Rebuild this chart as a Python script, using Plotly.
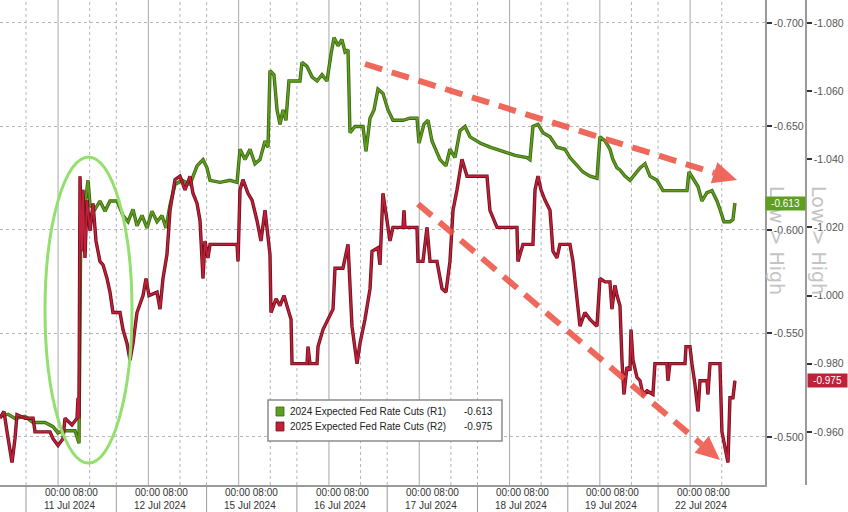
import plotly.graph_objects as go

# ---------------- data ----------------
day_labels = ["11 Jul 2024", "12 Jul 2024", "15 Jul 2024", "16 Jul 2024",
              "17 Jul 2024", "18 Jul 2024", "19 Jul 2024", "22 Jul 2024"]
hour_labels = "00:00 08:00"

series_names = ["2024 Expected Fed Rate Cuts (R1)", "2025 Expected Fed Rate Cuts (R2)"]

# x = trading-session index (fraction of session)
x_r1 = [-0.288, -0.199, -0.122, -0.011, 0.078, 0.210, 0.299, 0.354, 0.410, 0.543,
        0.587, 0.609, 0.642, 0.687, 0.709, 0.764, 0.819, 0.875, 0.930, 1.008,
        1.074, 1.130, 1.185, 1.229, 1.285, 1.340, 1.395, 1.451, 1.506, 1.550,
        1.595, 1.650, 1.728, 1.816, 1.894, 1.960, 2.004, 2.038, 2.148, 2.259,
        2.337, 2.370, 2.425, 2.481, 2.536, 2.591, 2.647, 2.680, 2.702, 2.746,
        2.780, 2.813, 2.846, 2.879, 2.912, 3.034, 3.056, 3.112, 3.167, 3.223,
        3.278, 3.333, 3.378, 3.411, 3.455, 3.499, 3.533, 3.566, 3.588, 3.643,
        3.732, 3.765, 3.810, 3.854, 3.898, 3.953, 4.009, 4.064, 4.175, 4.252,
        4.330, 4.352, 4.407, 4.452, 4.496, 4.585, 4.651, 4.695, 4.751, 4.806,
        4.862, 4.917, 5.028, 5.138, 5.282, 5.415, 5.548, 5.581, 5.614, 5.670,
        5.725, 5.803, 5.880, 5.969, 6.024, 6.102, 6.168, 6.246, 6.323, 6.356,
        6.412, 6.467, 6.500, 6.545, 6.578, 6.633, 6.689, 6.800, 6.855, 6.910,
        6.988, 7.054, 7.187, 7.320, 7.342, 7.397, 7.442, 7.486, 7.541, 7.597,
        7.652, 7.685, 7.730, 7.796, 7.829, 7.851]
y_r1 = [-0.510, -0.511, -0.509, -0.510, -0.507, -0.507, -0.505, -0.502, -0.503, -0.503,
        -0.497, -0.614, -0.608, -0.624, -0.612, -0.610, -0.614, -0.609, -0.614, -0.614,
        -0.607, -0.604, -0.610, -0.602, -0.607, -0.601, -0.609, -0.604, -0.607, -0.601,
        -0.612, -0.622, -0.624, -0.622, -0.631, -0.634, -0.630, -0.624, -0.623, -0.624,
        -0.623, -0.639, -0.634, -0.639, -0.632, -0.634, -0.643, -0.640, -0.677, -0.675,
        -0.658, -0.651, -0.658, -0.653, -0.672, -0.672, -0.681, -0.679, -0.674, -0.672,
        -0.675, -0.672, -0.685, -0.693, -0.689, -0.692, -0.686, -0.687, -0.647, -0.650,
        -0.650, -0.638, -0.654, -0.658, -0.668, -0.666, -0.658, -0.653, -0.653, -0.654,
        -0.654, -0.642, -0.651, -0.653, -0.643, -0.634, -0.631, -0.639, -0.635, -0.648,
        -0.650, -0.645, -0.642, -0.640, -0.638, -0.636, -0.635, -0.634, -0.650, -0.651,
        -0.647, -0.645, -0.640, -0.639, -0.635, -0.631, -0.628, -0.626, -0.625, -0.645,
        -0.643, -0.639, -0.634, -0.630, -0.629, -0.626, -0.624, -0.630, -0.632, -0.626,
        -0.624, -0.619, -0.619, -0.619, -0.628, -0.624, -0.621, -0.614, -0.618, -0.619,
        -0.614, -0.610, -0.604, -0.604, -0.605, -0.613]

x_r2 = [-0.288, -0.244, -0.210, -0.177, -0.155, -0.122, -0.100, -0.011, 0.078, 0.100,
        0.266, 0.299, 0.354, 0.410, 0.432, 0.509, 0.565, 0.576, 0.587, 0.598,
        0.620, 0.631, 0.653, 0.676, 0.709, 0.742, 0.775, 0.819, 0.853, 0.897,
        0.930, 0.963, 1.041, 1.074, 1.118, 1.152, 1.185, 1.229, 1.296, 1.329,
        1.362, 1.451, 1.484, 1.517, 1.561, 1.595, 1.650, 1.705, 1.761, 1.816,
        1.849, 1.894, 1.927, 1.960, 1.982, 2.015, 2.038, 2.337, 2.348, 2.370,
        2.403, 2.458, 2.503, 2.558, 2.602, 2.647, 2.680, 2.702, 2.713, 2.769,
        2.813, 2.857, 2.901, 2.935, 2.946, 3.112, 3.123, 3.145, 3.223, 3.234,
        3.289, 3.344, 3.400, 3.422, 3.510, 3.566, 3.610, 3.666, 3.699, 3.754,
        3.810, 3.832, 3.898, 3.920, 3.953, 3.987, 4.031, 4.064, 4.175, 4.186,
        4.197, 4.330, 4.341, 4.396, 4.441, 4.474, 4.551, 4.607, 4.651, 4.695,
        4.729, 4.773, 4.828, 4.884, 5.105, 5.138, 5.216, 5.437, 5.448, 5.504,
        5.614, 5.637, 5.670, 5.703, 5.747, 5.803, 5.836, 5.880, 5.913, 6.024,
        6.057, 6.102, 6.135, 6.190, 6.246, 6.323, 6.356, 6.412, 6.467, 6.489,
        6.522, 6.545, 6.578, 6.600, 6.622, 6.655, 6.689, 6.700, 6.722, 6.766,
        6.800, 6.833, 6.877, 6.943, 6.965, 7.098, 7.109, 7.131, 7.298, 7.309,
        7.353, 7.375, 7.408, 7.442, 7.464, 7.541, 7.552, 7.575, 7.685, 7.707,
        7.741, 7.774, 7.796, 7.829, 7.851]
y_r2 = [-0.964, -0.966, -0.960, -0.955, -0.951, -0.958, -0.965, -0.964, -0.964, -0.960,
        -0.960, -0.958, -0.956, -0.958, -0.964, -0.962, -0.964, -0.970, -0.964, -1.035,
        -1.013, -1.031, -1.011, -1.028, -1.019, -1.027, -1.016, -1.010, -1.009, -1.005,
        -1.001, -0.995, -0.995, -0.990, -0.986, -0.981, -0.986, -0.995, -1.000, -1.005,
        -1.000, -1.001, -0.996, -1.005, -1.012, -1.025, -1.034, -1.035, -1.031, -1.035,
        -1.030, -1.027, -1.022, -1.005, -1.016, -1.011, -1.015, -1.015, -1.010, -1.031,
        -1.034, -1.030, -1.028, -1.022, -1.016, -1.025, -1.016, -1.012, -0.995, -0.999,
        -0.997, -1.000, -0.996, -0.993, -0.980, -0.980, -0.985, -0.980, -0.980, -0.985,
        -0.990, -0.993, -0.996, -1.008, -1.008, -1.015, -0.991, -0.980, -0.986, -0.993,
        -1.002, -1.013, -1.014, -1.009, -1.030, -1.024, -1.016, -1.020, -1.020, -1.025,
        -1.020, -1.020, -1.010, -1.010, -1.020, -1.010, -1.010, -1.002, -1.001, -1.010,
        -1.025, -1.031, -1.040, -1.035, -1.035, -1.025, -1.020, -1.020, -1.010, -1.015,
        -1.015, -1.031, -1.035, -1.031, -1.028, -1.025, -1.013, -1.011, -1.015, -1.015,
        -1.010, -0.999, -0.991, -0.995, -0.993, -0.991, -1.005, -1.004, -1.004, -0.996,
        -1.003, -1.000, -0.997, -0.981, -0.971, -0.979, -0.978, -0.990, -0.981, -0.976,
        -0.975, -0.971, -0.972, -0.971, -0.980, -0.980, -0.975, -0.980, -0.980, -0.985,
        -0.985, -0.980, -0.974, -0.966, -0.975, -0.975, -0.971, -0.980, -0.980, -0.960,
        -0.955, -0.951, -0.970, -0.970, -0.975]

r1_ticks = [-0.700, -0.650, -0.600, -0.550, -0.500]
r2_ticks = [-1.080, -1.060, -1.040, -1.020, -1.000, -0.980, -0.960]

assert len(x_r1) == len(y_r1), (len(x_r1), len(y_r1))
assert len(x_r2) == len(y_r2), (len(x_r2), len(y_r2))

# ---------------- layout geometry (pixels) ----------------
W, H = 848, 512
PLOT_B = 485          # bottom of plotting area
AX1 = 765             # R1 axis line
AX2 = 806             # R2 axis line
FONT = "Liberation Sans"

GREEN = "#5f9e1e"
GREEN_DK = "#3b6510"
RED = "#c0203a"
RED_DK = "#6e0f1c"
ARROW = "rgba(236,84,70,0.88)"


def px(x):
    return x / W


def py(y):
    return (PLOT_B - y) / PLOT_B


fig = go.Figure()

# R1 line (outline + core)
fig.add_trace(go.Scatter(x=x_r1, y=y_r1, mode="lines", yaxis="y",
                         line=dict(color=GREEN_DK, width=3.4), hoverinfo="skip",
                         showlegend=False))
fig.add_trace(go.Scatter(x=x_r1, y=y_r1, mode="lines", yaxis="y", name=series_names[0],
                         line=dict(color=GREEN, width=1.7), showlegend=False))
# R2 line (outline + core)
fig.add_trace(go.Scatter(x=x_r2, y=y_r2, mode="lines", yaxis="y2",
                         line=dict(color=RED_DK, width=3.4), hoverinfo="skip",
                         showlegend=False))
fig.add_trace(go.Scatter(x=x_r2, y=y_r2, mode="lines", yaxis="y2", name=series_names[1],
                         line=dict(color=RED, width=1.7), showlegend=False))

shapes = []
n_days = len(day_labels)
# vertical grid: session start (dotted), 00:00 (solid), 08:00 (dotted)
for k in range(n_days):
    for off, dash, col in [(0.0, "dot", "#b5b5b5"), (0.355, "solid", "#a8a8a8"),
                           (0.705, "dot", "#b5b5b5")]:
        shapes.append(dict(type="line", xref="x", yref="paper", x0=k + off, x1=k + off,
                           y0=0, y1=1, layer="below",
                           line=dict(color=col, width=1, dash=dash)))
    # separators under the axis between day labels
    shapes.append(dict(type="line", xref="x", yref="paper", x0=k, x1=k,
                       y0=0, y1=-(H - PLOT_B) / PLOT_B,
                       line=dict(color="#9a9a9a", width=1)))

# green ellipse
shapes.append(dict(type="circle", xref="paper", yref="paper",
                   x0=px(45), x1=px(132), y0=py(463), y1=py(157),
                   line=dict(color="#93e06e", width=3)))


def arrow(x0, y0, x1, y1):
    dx, dy = x1 - x0, y1 - y0
    ln = (dx * dx + dy * dy) ** 0.5
    ux, uy = dx / ln, dy / ln
    hl, hw = 24, 11
    bx, by = x1 - hl * ux, y1 - hl * uy
    out = [dict(type="line", xref="paper", yref="paper",
                x0=px(x0), y0=py(y0), x1=px(bx), y1=py(by),
                line=dict(color=ARROW, width=6, dash="18px,10px"))]
    p1 = (bx - hw * uy, by + hw * ux)
    p2 = (bx + hw * uy, by - hw * ux)
    path = "M {} {} L {} {} L {} {} Z".format(px(x1), py(y1), px(p1[0]), py(p1[1]),
                                              px(p2[0]), py(p2[1]))
    out.append(dict(type="path", xref="paper", yref="paper", path=path,
                    fillcolor=ARROW, line=dict(width=0)))
    return out


shapes += arrow(365, 64, 737, 180)
shapes += arrow(418, 204, 720, 460)

# legend box + swatches
shapes.append(dict(type="rect", xref="paper", yref="paper",
                   x0=px(268), x1=px(502), y0=py(441), y1=py(400),
                   fillcolor="white", line=dict(color="#8c8c8c", width=1.5)))
shapes.append(dict(type="rect", xref="paper", yref="paper",
                   x0=px(276), x1=px(284), y0=py(416), y1=py(407),
                   fillcolor=GREEN, line=dict(color=GREEN_DK, width=0.8)))
shapes.append(dict(type="rect", xref="paper", yref="paper",
                   x0=px(276), x1=px(284), y0=py(431), y1=py(422),
                   fillcolor=RED, line=dict(color=RED_DK, width=0.8)))

annotations = []
# x-axis labels: hour row and date row
for k, d in enumerate(day_labels):
    annotations.append(dict(xref="x", yref="paper", x=k + 0.5, y=py(492),
                            xanchor="center", yanchor="middle", text=hour_labels,
                            showarrow=False, font=dict(family=FONT, size=10, color="#333")))
    annotations.append(dict(xref="x", yref="paper", x=k + 0.48, y=py(505),
                            xanchor="center", yanchor="middle", text=d,
                            showarrow=False, font=dict(family=FONT, size=10, color="#333")))
# rotated "Low > High" labels
for xc in (790, 832):
    annotations.append(dict(xref="paper", yref="paper", x=px(xc), y=py(240),
                            text="Low\u00a0>\u00a0High", textangle=90, showarrow=False,
                            font=dict(family="DejaVu Sans", size=19, color="#c4c4c4")))
# last value tags
annotations.append(dict(xref="paper", yref="y", x=px(785.5), y=y_r1[-1],
                        xanchor="center", yanchor="middle",
                        text="{:.3f}".format(y_r1[-1]), showarrow=False,
                        bgcolor=GREEN, borderpad=1, width=37,
                        font=dict(family=FONT, size=10, color="white")))
annotations.append(dict(xref="paper", yref="y2", x=px(827.5), y=y_r2[-1],
                        xanchor="center", yanchor="middle",
                        text="{:.3f}".format(y_r2[-1]), showarrow=False,
                        bgcolor=RED, borderpad=1, width=37,
                        font=dict(family=FONT, size=10, color="white")))
# legend text
for nm, val, yy in zip(series_names, [y_r1[-1], y_r2[-1]], (411.5, 426.5)):
    annotations.append(dict(xref="paper", yref="paper", x=px(288), y=py(yy),
                            xanchor="left", yanchor="middle", text=nm, showarrow=False,
                            font=dict(family=FONT, size=10, color="#222")))
    annotations.append(dict(xref="paper", yref="paper", x=px(495), y=py(yy),
                            xanchor="right", yanchor="middle", text="{:.3f}".format(val),
                            showarrow=False, font=dict(family=FONT, size=10, color="#222")))

axis_common = dict(showline=True, linecolor="#9a9a9a", linewidth=1.5, zeroline=False,
                   ticks="outside", ticklen=5, tickwidth=2, tickcolor="#333",
                   tickfont=dict(family=FONT, size=10.5, color="#555"),
                   automargin=False, fixedrange=True)

fig.update_layout(
    template="none",
    width=W, height=H,
    margin=dict(l=0, r=0, t=0, b=H - PLOT_B, pad=0),
    paper_bgcolor="white", plot_bgcolor="white",
    showlegend=False,
    xaxis=dict(domain=[0, AX1 / W], range=[-0.288, 8.184], showgrid=False,
               zeroline=False, showline=True, linecolor="#9a9a9a", linewidth=1.5,
               showticklabels=False, ticks="",
               automargin=False, fixedrange=True),
    yaxis=dict(side="right", anchor="x", range=[-0.4768, -0.7111],
               tickmode="array", tickvals=r1_ticks,
               ticktext=["{:.3f}".format(v) for v in r1_ticks],
               showgrid=True, gridcolor="#b8b8b8", griddash="dot", gridwidth=1,
               **axis_common),
    yaxis2=dict(side="right", anchor="free", overlaying="y", position=AX2 / W,
                range=[-0.9444, -1.0867], tickmode="array", tickvals=r2_ticks,
                ticktext=["{:.3f}".format(v) for v in r2_ticks], showgrid=False,
                **axis_common),
    shapes=shapes,
    annotations=annotations,
)

fig.write_html("out.html")
